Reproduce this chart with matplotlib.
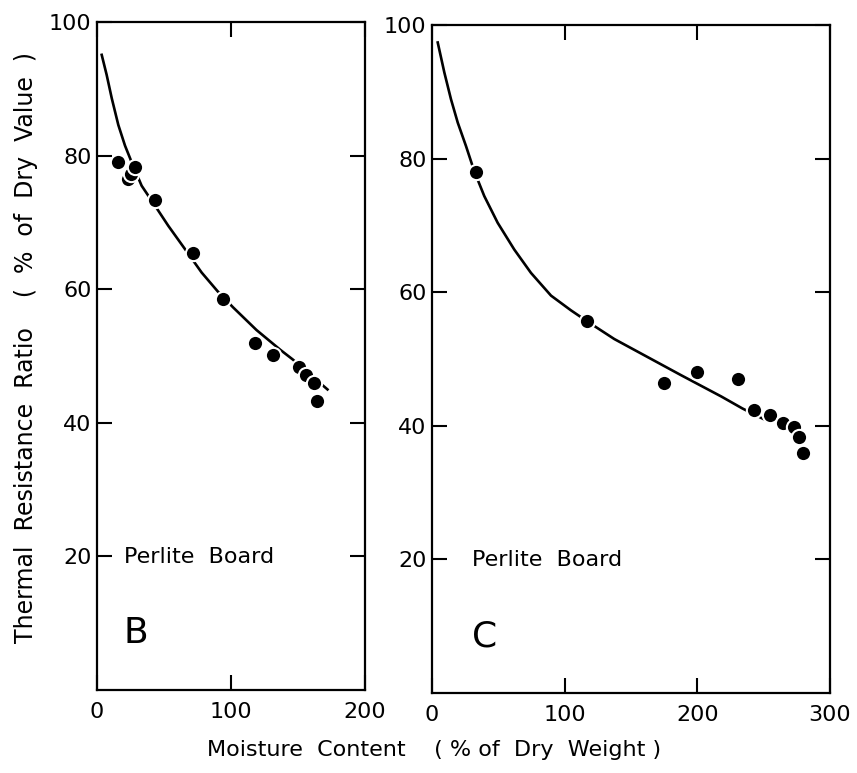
import matplotlib.pyplot as plt

# Panel B - Perlite board (points)
bX = [16, 23, 25, 28, 43, 72, 94, 118, 131, 151, 156, 162, 164]
bY = [79.0, 76.5, 77.2, 78.3, 73.4, 65.4, 58.6, 52.0, 50.2, 48.4, 47.2, 46.0, 43.2]
# Panel B - fitted curve
bCurveX = [3.5, 7.2, 11, 15.9, 20.9, 25.9, 33.3, 43, 53.2, 65.7, 78.1, 90, 101.5, 119, 137, 146, 172]
bCurveY = [95.1, 92.1, 88.6, 84.6, 81.5, 79.0, 75.5, 72.6, 69.5, 66.0, 62.5, 59.7, 57.3, 53.9, 50.9, 49.5, 45.0]

# Panel C - Perlite board (points)
cX = [33, 117, 175, 200, 231, 243, 255, 264.5, 273, 277, 280]
cY = [78.0, 55.7, 46.4, 48.0, 47.0, 42.3, 41.6, 40.5, 39.9, 38.4, 36.0]
# Panel C - fitted curve
cCurveX = [4.3, 9.3, 14.3, 19.4, 25.6, 31.9, 39.4, 49.5, 62, 74.6, 89.7, 104.7, 117.3,
           137.4, 162.5, 187.6, 218, 234, 250]
cCurveY = [97.4, 92.9, 88.9, 85.4, 81.9, 78.1, 74.4, 70.4, 66.4, 62.9, 59.5, 57.3, 55.6,
           53.0, 50.3, 47.6, 44.4, 42.6, 41.0]

yTicks = [20, 40, 60, 80, 100]
bTicks = [0, 100, 200]
cTicks = [0, 100, 200, 300]

#Plot-------------------------------
def plotPanel(ax, x, y, cx, cy, xmax, xticks, letter):
    ax.plot(cx, cy, color='black', linewidth=1.9, zorder=2)
    ax.plot(x, y, linestyle='none', marker='o', markersize=11,
            markerfacecolor='black', markeredgecolor='white',
            markeredgewidth=1.5, zorder=3)
    ax.set_xlim(0, xmax)
    ax.set_ylim(0, 100)
    ax.set_xticks(xticks)
    ax.set_yticks(yTicks)
    ax.tick_params(direction='in', length=11, width=1.5, labelsize=16,
                   top=True, right=True)
    ax.tick_params(axis='y', pad=4)
    ax.tick_params(axis='x', pad=9)
    for s in ax.spines.values():
        s.set_linewidth(1.6)
    ax.text(0.1, 0.19, "Perlite  Board", transform=ax.transAxes, fontsize=16)
    ax.text(0.1, 0.07, letter, transform=ax.transAxes, fontsize=26)
#-----------------------------------

fig = plt.figure(figsize=(8.57, 7.73), dpi=100)
axB = fig.add_axes([0.1132, 0.1074, 0.3127, 0.864])
axC = fig.add_axes([0.5041, 0.1035, 0.4644, 0.864])

plotPanel(axB, bX, bY, bCurveX, bCurveY, 200, bTicks, "B")
plotPanel(axC, cX, cY, cCurveX, cCurveY, 300, cTicks, "C")

fig.text(0.03, 0.551, "Thermal  Resistance  Ratio    (  %  of  Dry  Value  )",
         rotation=90, ha='center', va='center', fontsize=17)
fig.text(0.506, 0.03, "Moisture  Content    ( % of  Dry  Weight )",
         ha='center', va='center', fontsize=16)

fig.savefig("out.png", dpi=100)
